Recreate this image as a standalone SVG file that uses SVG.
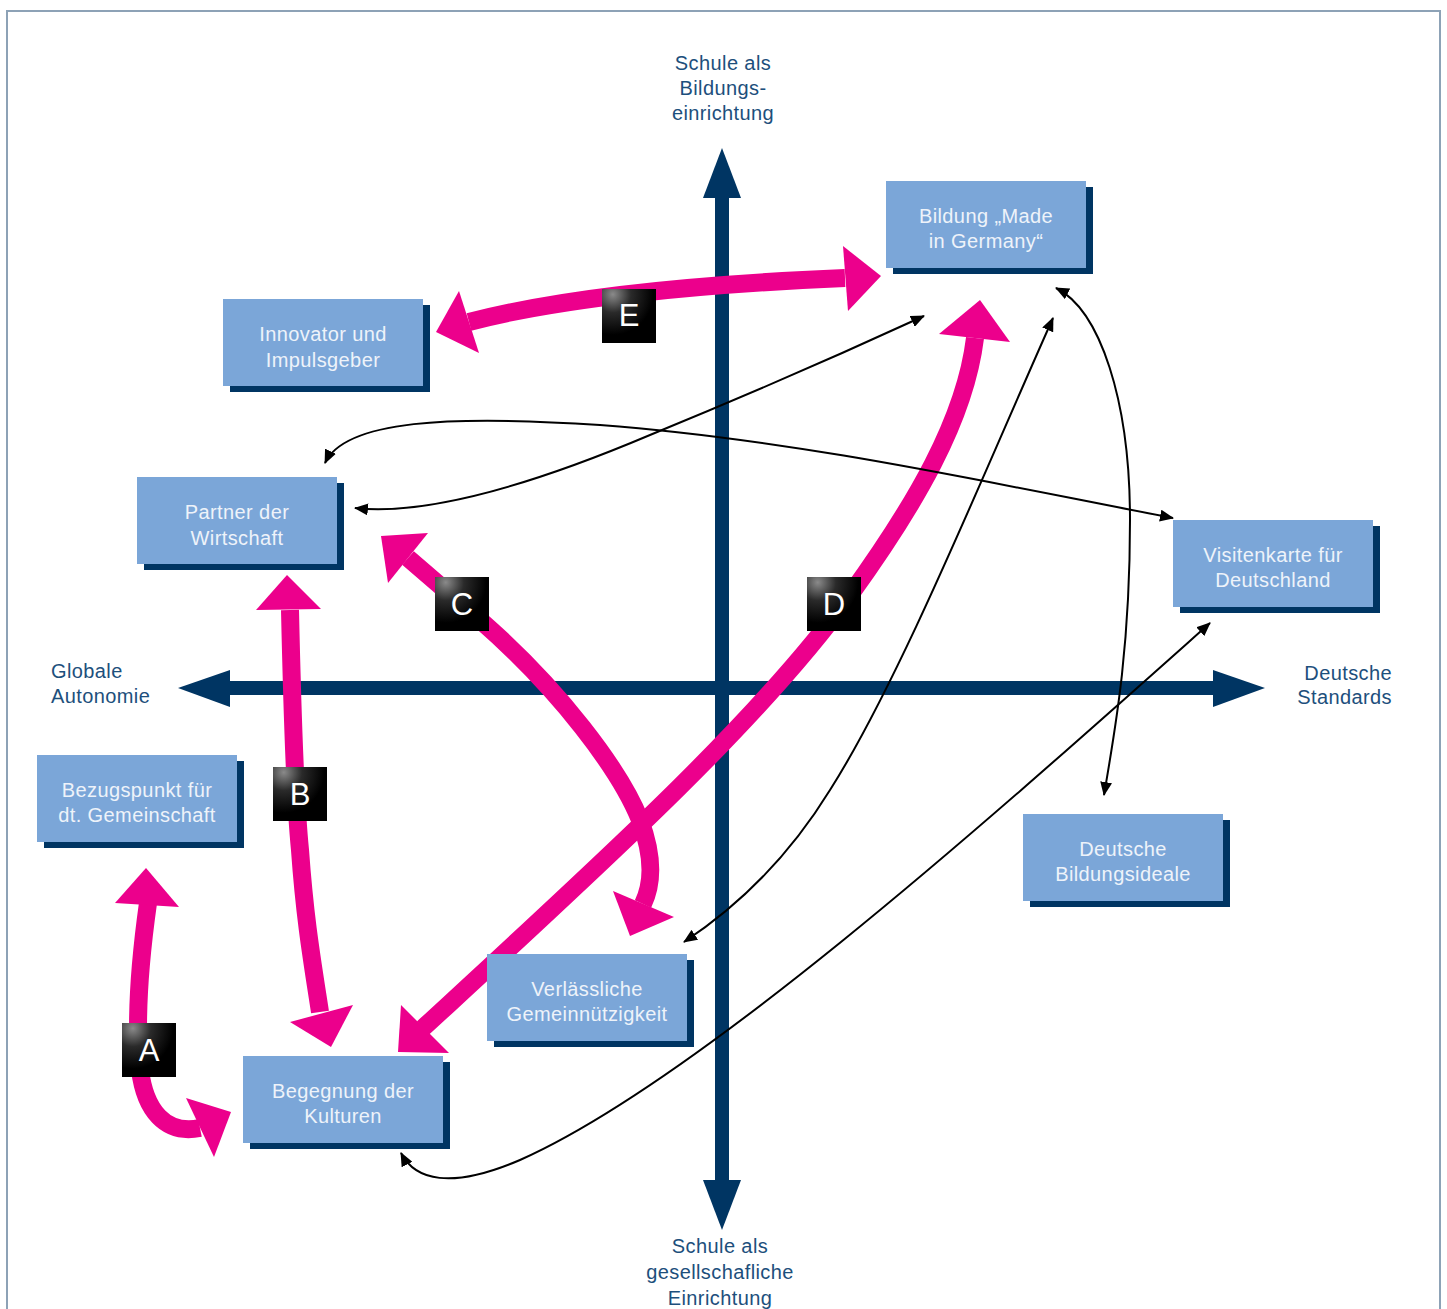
<svg xmlns="http://www.w3.org/2000/svg" width="1447" height="1309" viewBox="0 0 1447 1309">
<style>
.box{fill:#7ba6d8}
.shd{fill:#003563}
.bt{font-family:"Liberation Sans",Arial,sans-serif;font-size:20px;letter-spacing:0.4px;fill:#eef3fa;text-anchor:middle}
.ax{font-family:"Liberation Sans",Arial,sans-serif;font-size:20px;letter-spacing:0.4px;fill:#1d4f7c}
.pk{fill:none;stroke:#ec008c;stroke-width:18}
.ph{fill:#ec008c}
.bl{fill:none;stroke:#000;stroke-width:2;marker-start:url(#ah);marker-end:url(#ah)}
.bdg{fill:url(#bg)}
.lt{font-family:"Liberation Sans",Arial,sans-serif;font-size:31px;fill:#fff;text-anchor:middle}
</style>
<defs>
<marker id="ah" viewBox="0 0 14 12" markerWidth="14" markerHeight="12" refX="13" refY="6" orient="auto-start-reverse" markerUnits="userSpaceOnUse">
<path d="M0,0 L14,6 L0,12 z" fill="#000"/>
</marker>
<radialGradient id="bg" cx="0.2" cy="0.1" r="0.75">
<stop offset="0" stop-color="#8a8a8a"/>
<stop offset="0.45" stop-color="#2a2a2a"/>
<stop offset="1" stop-color="#000"/>
</radialGradient>
</defs>
<rect width="1447" height="1309" fill="#fff"/>
<path d="M7 1309 V11 H1440 V1309" fill="none" stroke="#8da2b6" stroke-width="2"/>

<g id="axes">
<rect x="715" y="196" width="14" height="986" fill="#003563"/>
<polygon points="722,148 741,198 703,198" fill="#003563"/>
<polygon points="722,1230 741,1180 703,1180" fill="#003563"/>
<rect x="228" y="681" width="987" height="14" fill="#003563"/>
<polygon points="178,688 230,670 230,707" fill="#003563"/>
<polygon points="1265,688 1213,670 1213,707" fill="#003563"/>
</g>

<g id="axis-labels">
<text class="ax" text-anchor="middle" x="723" y="70">Schule als</text>
<text class="ax" text-anchor="middle" x="723" y="95">Bildungs-</text>
<text class="ax" text-anchor="middle" x="723" y="120">einrichtung</text>
<text class="ax" text-anchor="middle" x="720" y="1253">Schule als</text>
<text class="ax" text-anchor="middle" x="720" y="1279">gesellschafliche</text>
<text class="ax" text-anchor="middle" x="720" y="1305">Einrichtung</text>
<text class="ax" x="51" y="678">Globale</text>
<text class="ax" x="51" y="703">Autonomie</text>
<text class="ax" text-anchor="end" x="1392" y="680">Deutsche</text>
<text class="ax" text-anchor="end" x="1392" y="704">Standards</text>
</g>

<g id="connectors">
<path class="pk" d="M469 322 C560 298 700 284 845 278"/>
<polygon class="ph" points="436,332 459,291 479,353"/>
<polygon class="ph" points="881,276 843,246 848,311"/>
<path class="pk" d="M408 558 L480 620 C560 690 620 770 640 820 C655 860 652 885 643 904"/>
<polygon class="ph" points="381,536 428,533 388,583"/>
<polygon class="ph" points="630,936 613,891 674,917"/>
<path class="pk" d="M423 1028 C600 865 760 720 850 595 C915 505 965 420 975 338"/>
<polygon class="ph" points="398,1052 449,1053 401,1005"/>
<polygon class="ph" points="980,300 939,334 1010,342"/>
<path class="pk" d="M290 610 C292 700 295 800 300 850 C305 920 312 960 320 1012"/>
<polygon class="ph" points="287,575 256,610 321,609"/>
<polygon class="ph" points="331,1047 290,1022 353,1005"/>
<path class="pk" d="M148 903 C140 960 135 1020 140 1070 C145 1110 165 1135 200 1128"/>
<polygon class="ph" points="146,868 115,903 179,907"/>
<polygon class="ph" points="231,1112 186,1098 214,1157"/>

<path class="bl" d="M325 463 C345 420 450 415 600 425 C800 440 1000 485 1173 518"/>
<path class="bl" d="M355 508 C420 515 520 490 650 435 C760 390 850 350 924 316"/>
<path class="bl" d="M1056 288 C1100 310 1130 400 1130 520 C1130 650 1115 730 1104 795"/>
<path class="bl" d="M1053 318 C985 470 900 680 830 790 C790 855 740 905 684 942"/>
<path class="bl" d="M1210 623 C1000 810 700 1080 520 1160 C450 1190 415 1180 401 1153"/>
</g>

<g id="n-bildung">
<rect class="shd" x="893" y="187" width="200" height="87"/>
<rect class="box" x="886" y="181" width="200" height="87"/>
<text class="bt" x="986" y="223">Bildung „Made</text>
<text class="bt" x="986" y="248">in Germany“</text>
</g>
<g id="n-innovator">
<rect class="shd" x="230" y="305" width="200" height="87"/>
<rect class="box" x="223" y="299" width="200" height="87"/>
<text class="bt" x="323" y="341">Innovator und</text>
<text class="bt" x="323" y="367">Impulsgeber</text>
</g>
<g id="n-partner">
<rect class="shd" x="144" y="483" width="200" height="87"/>
<rect class="box" x="137" y="477" width="200" height="87"/>
<text class="bt" x="237" y="519">Partner der</text>
<text class="bt" x="237" y="545">Wirtschaft</text>
</g>
<g id="n-visitenkarte">
<rect class="shd" x="1180" y="526" width="200" height="87"/>
<rect class="box" x="1173" y="520" width="200" height="87"/>
<text class="bt" x="1273" y="562">Visitenkarte für</text>
<text class="bt" x="1273" y="587">Deutschland</text>
</g>
<g id="n-bezugspunkt">
<rect class="shd" x="44" y="761" width="200" height="87"/>
<rect class="box" x="37" y="755" width="200" height="87"/>
<text class="bt" x="137" y="797">Bezugspunkt für</text>
<text class="bt" x="137" y="822">dt. Gemeinschaft</text>
</g>
<g id="n-bildungsideale">
<rect class="shd" x="1030" y="820" width="200" height="87"/>
<rect class="box" x="1023" y="814" width="200" height="87"/>
<text class="bt" x="1123" y="856">Deutsche</text>
<text class="bt" x="1123" y="881">Bildungsideale</text>
</g>
<g id="n-verlaesslich">
<rect class="shd" x="494" y="960" width="200" height="87"/>
<rect class="box" x="487" y="954" width="200" height="87"/>
<text class="bt" x="587" y="996">Verlässliche</text>
<text class="bt" x="587" y="1021">Gemeinnützigkeit</text>
</g>
<g id="n-begegnung">
<rect class="shd" x="250" y="1062" width="200" height="87"/>
<rect class="box" x="243" y="1056" width="200" height="87"/>
<text class="bt" x="343" y="1098">Begegnung der</text>
<text class="bt" x="343" y="1123">Kulturen</text>
</g>

<g id="badge-a"><rect class="bdg" x="122" y="1023" width="54" height="54"/><text class="lt" x="149" y="1061">A</text></g>
<g id="badge-b"><rect class="bdg" x="273" y="767" width="54" height="54"/><text class="lt" x="300" y="805">B</text></g>
<g id="badge-c"><rect class="bdg" x="435" y="577" width="54" height="54"/><text class="lt" x="462" y="615">C</text></g>
<g id="badge-d"><rect class="bdg" x="807" y="577" width="54" height="54"/><text class="lt" x="834" y="615">D</text></g>
<g id="badge-e"><rect class="bdg" x="602" y="289" width="54" height="54"/><text class="lt" x="629" y="326">E</text></g>
</svg>
